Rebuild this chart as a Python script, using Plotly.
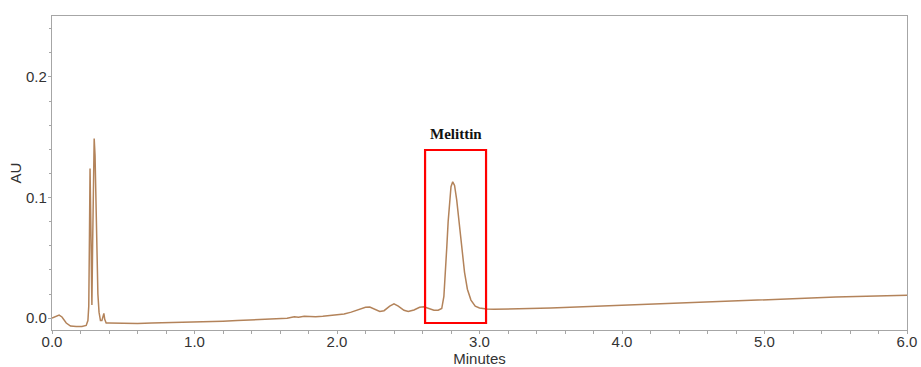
import plotly.graph_objects as go

# Retention time (minutes) and absorbance (AU)
time_min = [
    0.00, 0.02, 0.05, 0.07, 0.10, 0.13, 0.17, 0.21, 0.24, 0.252, 0.258,
    0.263, 0.267, 0.271, 0.276, 0.280, 0.285, 0.290, 0.296, 0.302, 0.308,
    0.315, 0.322, 0.330, 0.340, 0.350, 0.358, 0.364, 0.370, 0.380, 0.40,
    0.50, 0.60, 0.70, 0.80, 0.90, 1.00, 1.10, 1.20, 1.30, 1.40, 1.50,
    1.60, 1.65, 1.70, 1.73, 1.77, 1.80, 1.85, 1.90, 1.95, 2.00, 2.05,
    2.10, 2.15, 2.20, 2.23, 2.27, 2.30, 2.33, 2.37, 2.40, 2.43, 2.47,
    2.50, 2.54, 2.58, 2.61, 2.64, 2.68, 2.71, 2.735, 2.75, 2.76, 2.77,
    2.78, 2.79, 2.80, 2.812, 2.825, 2.84, 2.855, 2.875, 2.895, 2.915,
    2.94, 2.97, 3.00, 3.05, 3.10, 3.50, 4.00, 4.50, 5.00, 5.50, 6.00,
]
absorbance_au = [
    0.000, 0.001, 0.0025, 0.001, -0.004, -0.0065, -0.007, -0.0068, -0.006, -0.002, 0.01,
    0.07, 0.124, 0.09, 0.03, 0.011, 0.06, 0.135, 0.149, 0.135, 0.10,
    0.055, 0.020, 0.005, -0.002, -0.002, 0.002, 0.004, -0.001, -0.004, -0.004,
    -0.0045, -0.0045, -0.004, -0.0038, -0.0035, -0.003, -0.0028, -0.0025, -0.002, -0.0015, -0.001,
    -0.0005, 0.000, 0.0012, 0.0008, 0.0015, 0.0012, 0.0012, 0.0015, 0.002, 0.0025, 0.0035,
    0.005, 0.007, 0.009, 0.0092, 0.0070, 0.0055, 0.0062, 0.010, 0.0118, 0.010, 0.0065,
    0.0055, 0.0068, 0.0090, 0.0095, 0.0080, 0.0066, 0.0066, 0.008, 0.018, 0.035, 0.058,
    0.080, 0.098, 0.109, 0.113, 0.110, 0.098, 0.080, 0.058, 0.038, 0.024,
    0.015, 0.010, 0.0085, 0.0076, 0.0073, 0.0085, 0.0108, 0.0133, 0.0155, 0.0175, 0.019,
]

x_tick_vals = [0, 1, 2, 3, 4, 5, 6]
x_tick_text = ["0.0", "1.0", "2.0", "3.0", "4.0", "5.0", "6.0"]
y_tick_vals = [0.0, 0.1, 0.2]
y_tick_text = ["0.0", "0.1", "0.2"]

peak_label = "Melittin"
box_x = [2.618, 3.046]
box_y = [-0.004, 0.1394]

FONT = "Liberation Sans, Arial, sans-serif"

fig = go.Figure()
fig.add_trace(go.Scatter(
    x=time_min, y=absorbance_au, mode="lines",
    line=dict(color="#B3835A", width=1.5),
    showlegend=False, hoverinfo="skip",
))

fig.add_shape(type="rect", xref="x", yref="y",
              x0=box_x[0], x1=box_x[1], y0=box_y[0], y1=box_y[1],
              line=dict(color="#FF0000", width=2.2), fillcolor="rgba(0,0,0,0)")

fig.add_annotation(x=(box_x[0] + box_x[1]) / 2, y=0.153, xref="x", yref="y",
                   text="<b>" + peak_label + "</b>", showarrow=False,
                   font=dict(family="Liberation Serif, Times New Roman, serif", size=15, color="#111111"))

axis_common = dict(
    showline=True, linecolor="#A6A6A6", linewidth=1.2, mirror=True,
    showgrid=False, zeroline=False, automargin=False,
    ticks="outside", tickcolor="#A6A6A6", ticklen=3,
    tickfont=dict(family=FONT, size=15, color="#333333"),
)

fig.update_xaxes(
    range=[0, 6], tickvals=x_tick_vals, ticktext=x_tick_text,
    ticklabelstandoff=-5,
    title=dict(text="Minutes", standoff=0, font=dict(family=FONT, size=15, color="#333333")),
    minor=dict(dtick=0.2, ticks="outside", ticklen=3, tickcolor="#A6A6A6"),
    **axis_common,
)
fig.update_yaxes(
    range=[-0.0098, 0.2505], tickvals=y_tick_vals, ticktext=y_tick_text,
    ticklabelstandoff=-2,
    title=dict(text="AU", standoff=0, font=dict(family=FONT, size=15, color="#333333")),
    minor=dict(tick0=0, dtick=0.02, ticks="outside", ticklen=2, tickcolor="#A6A6A6"),
    **axis_common,
)

fig.update_layout(
    width=921, height=367,
    margin=dict(l=52, r=14, t=16, b=37),
    plot_bgcolor="white", paper_bgcolor="white",
)

fig.write_html(
    "out.html",
    config={"displayModeBar": False},
    post_script="document.body.style.margin='0';document.body.style.overflow='hidden';",
)
